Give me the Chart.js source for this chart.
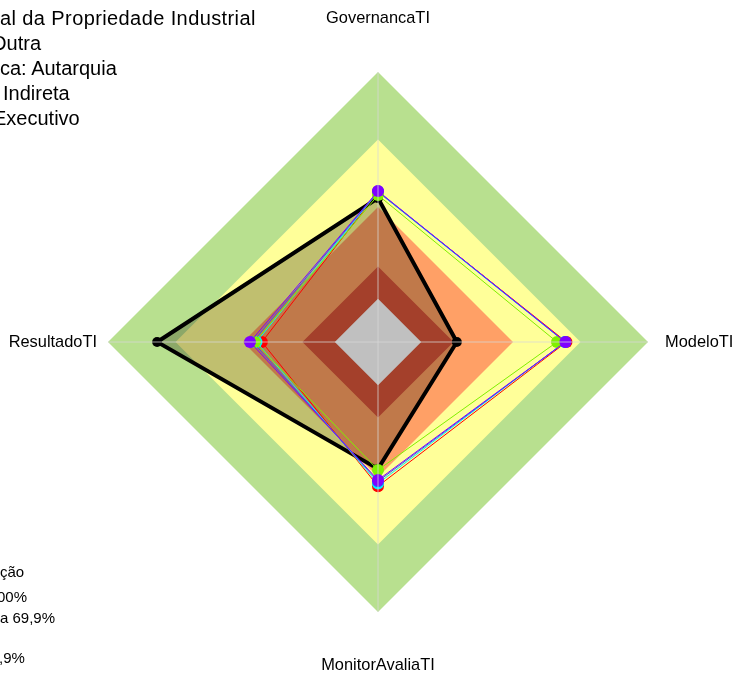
<!DOCTYPE html>
<html>
<head>
<meta charset="utf-8">
<script src="https://cdn.jsdelivr.net/npm/chart.js@4.4.1/dist/chart.umd.min.js"></script>
<style>
    html, body { margin: 0; padding: 0; background: #fff; overflow: hidden; }
    #wrap { position: relative; width: 736px; height: 675px; }
    .txt { position: absolute; font-family: "Liberation Sans", Arial, sans-serif; color: #000; white-space: nowrap; }
    .info { font-size: 20px; line-height: 25px; }
    .leg { font-size: 15px; }
</style>
</head>
<body>
<div id="wrap">
    <canvas id="radar" width="736" height="675"></canvas>

    <div class="txt info" style="left:0px; top:6px; letter-spacing:0.4px;">al da Propriedade Industrial</div>
    <div class="txt info" style="left:-9px; top:31px;">Outra</div>
    <div class="txt info" style="left:0px; top:56px;">ca: Autarquia</div>
    <div class="txt info" style="left:3px; top:81px;">Indireta</div>
    <div class="txt info" style="left:-7px; top:106px;">Executivo</div>

    <div class="txt leg" style="left:0px; top:563px;">ção</div>
    <div class="txt leg" style="left:-3px; top:588px;">00%</div>
    <div class="txt leg" style="left:0px; top:609px;">a 69,9%</div>
    <div class="txt leg" style="left:-1px; top:649px;">,9%</div>
</div>

<script>
const categories = ["GovernancaTI", "ModeloTI", "MonitorAvaliaTI", "ResultadoTI"];

// faixas de fundo (valor maximo de cada faixa)
const bandLevels = [100, 75, 50, 28, 16];

// organizacao (linha preta)
const orgValues = [53.3, 29.2, 47.0, 81.8];

// demais series
const redValues = [55.6, 69.8, 53.4, 43.0];
const cyanValues = [55.6, 69.2, 52.4, 45.0];
const blueValues = [55.8, 69.4, 51.6, 46.4];
const greenValues = [54.4, 66.3, 47.4, 45.6];
const purpleValues = [55.9, 69.4, 51.1, 47.4];

function band(level, color, order) {
    return {
        data: categories.map(() => level),
        backgroundColor: color,
        borderWidth: 0,
        pointRadius: 0,
        fill: "origin",
        order: order
    };
}

function series(values, color, order) {
    return {
        data: values,
        borderColor: color,
        borderWidth: 1,
        backgroundColor: color,
        pointBackgroundColor: color,
        pointBorderWidth: 0,
        pointRadius: 6,
        fill: false,
        order: order
    };
}

const labelPlugin = {
    id: "axisLabels",
    afterDraw(chart) {
        const scale = chart.scales.r;
        const ctx = chart.ctx;
        const extra = [54, 17, 53, 11];
        ctx.save();
        ctx.font = "16.4px 'Liberation Sans', Arial, sans-serif";
        ctx.fillStyle = "#000";
        categories.forEach((name, i) => {
            const p = scale.getPointPosition(i, scale.drawingArea + extra[i]);
            if (i === 1) { ctx.textAlign = "left"; }
            else if (i === 3) { ctx.textAlign = "right"; }
            else { ctx.textAlign = "center"; }
            ctx.textBaseline = "middle";
            ctx.fillText(name, p.x, p.y);
        });
        ctx.restore();
    }
};

new Chart(document.getElementById("radar"), {
    type: "radar",
    data: {
        labels: categories,
        datasets: [
            band(bandLevels[0], "#b8e08f", 20),
            band(bandLevels[1], "#ffff99", 19),
            band(bandLevels[2], "#ffa066", 18),
            {
                data: orgValues,
                backgroundColor: "rgba(22,20,0,0.27)",
                borderWidth: 0,
                pointRadius: 0,
                fill: "origin",
                order: 17
            },
            band(bandLevels[3], "#a4402b", 16),
            band(bandLevels[4], "#c0c0c0", 15),
            {
                data: orgValues,
                borderColor: "#000",
                borderWidth: 4,
                backgroundColor: "#000",
                pointBackgroundColor: "#000",
                pointBorderWidth: 0,
                pointRadius: 5,
                fill: false,
                order: 10
            },
            series(redValues, "#ff0000", 6),
            series(cyanValues, "#00f0ff", 5),
            series(blueValues, "#3050ff", 4),
            series(greenValues, "#80f000", 3),
            series(purpleValues, "#8000ff", 2)
        ]
    },
    options: {
        responsive: false,
        animation: false,
        layout: {
            padding: { left: 108, right: 88, top: 72, bottom: 63 }
        },
        plugins: {
            legend: { display: false },
            tooltip: { enabled: false }
        },
        elements: {
            line: { tension: 0 }
        },
        scales: {
            r: {
                min: 0,
                max: 100,
                ticks: { display: false },
                grid: { display: false, z: 1 },
                pointLabels: { display: false },
                angleLines: { display: true, color: "rgba(215,215,215,0.75)", lineWidth: 1 }
            }
        }
    },
    plugins: [labelPlugin]
});
</script>
</body>
</html>
